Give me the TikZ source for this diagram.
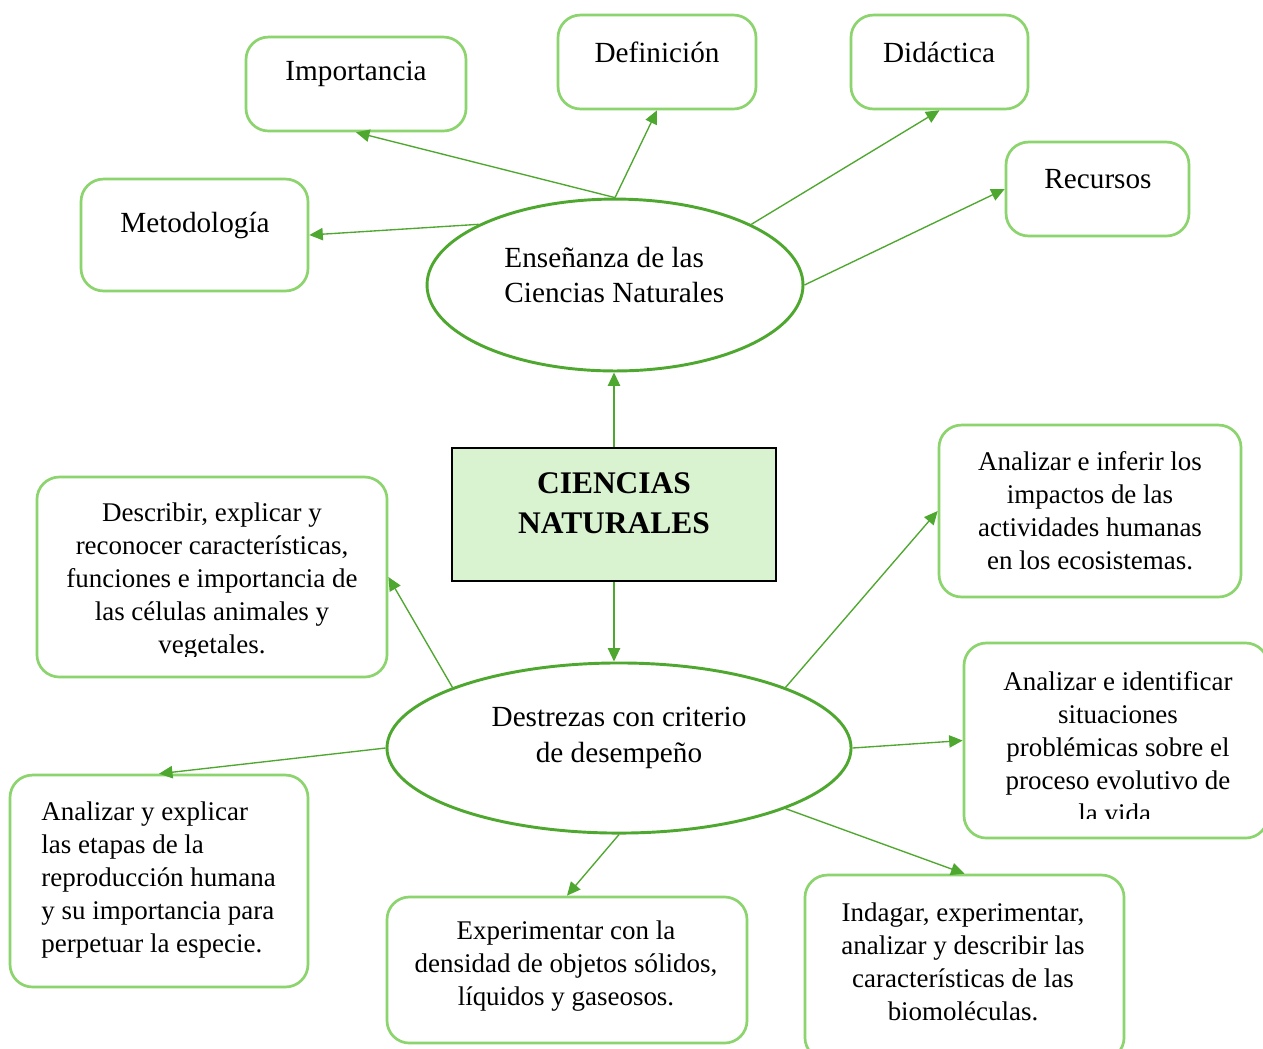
\documentclass[tikz,border=0pt]{standalone}
\usepackage{fontspec}
\setmainfont{Liberation Serif}
\usetikzlibrary{arrows.meta,shapes.geometric}
\definecolor{boxgreen}{RGB}{140,212,110}
\definecolor{linegreen}{RGB}{78,167,46}
\definecolor{centerfill}{RGB}{217,242,208}
\begin{document}
\begin{tikzpicture}[x=0.445pt,y=-0.445pt,
  box/.style={draw=boxgreen, line width=1.2pt, rounded corners=10pt, inner sep=0pt, fill=white},
  oval/.style={ellipse, draw=linegreen, line width=1.3pt, inner sep=0pt},
  conn/.style={draw=linegreen, line width=0.6pt, -{Triangle[length=6pt,width=5.5pt]}},
  txt/.style={font=\fontsize{12}{14.7}\selectfont, align=center, inner sep=0pt},
  big/.style={font=\fontsize{13}{15.6}\selectfont, align=center, inner sep=0pt}]
\clip (0,0) rectangle (1263,1048);
\fill[white] (0,0) rectangle (1263,1048);
% top boxes
\node[box, minimum width=97.9pt, minimum height=41.8pt] (bimp) at (356,84) {};
\node[big] (timp) at (356,74) {Importancia};
\node[box, minimum width=88.1pt, minimum height=41.8pt] (bdef) at (657,62) {};
\node[big] (tdef) at (657,52) {Definición};
\node[box, minimum width=78.8pt, minimum height=41.8pt] (bdid) at (939.5,62) {};
\node[big] (tdid) at (939,52) {Didáctica};
\node[box, minimum width=81.4pt, minimum height=41.8pt] (brec) at (1097.5,189) {};
\node[big] (trec) at (1098,179) {Recursos};
\node[box, minimum width=101pt, minimum height=49.8pt] (bmet) at (194.5,235) {};
\node[big] (tmet) at (195,225) {Metodología};
% ellipse 1
\node[oval, minimum width=167.3pt, minimum height=76.5pt] (e1) at (615,285) {};
\node[big, align=left, anchor=west] (te1) at (504,275) {Enseñanza de las\\Ciencias Naturales};
% central
\node[draw=black, line width=1.2pt, fill=centerfill, minimum width=144.2pt, minimum height=59.2pt, inner sep=0pt] (c) at (614,514.5) {};
\node[font=\fontsize{14}{17.8}\selectfont\bfseries, align=center, inner sep=0pt] (tc) at (614,503) {CIENCIAS\\NATURALES};
% ellipse 2
\node[oval, minimum width=206.5pt, minimum height=75.7pt] (e2) at (619,748) {};
\node[font=\fontsize{13}{16}\selectfont, align=center, inner sep=0pt] (te2) at (619,738) {Destrezas con criterio\\de desempeño};
% lower boxes
\node[box, minimum width=155.8pt, minimum height=89pt] (bdes) at (212,577) {};
\begin{scope}
\clip (37,477) rectangle (387,656);
\node[txt] (tdes) at (212,581) {Describir, explicar y\\reconocer características,\\funciones e importancia de\\las células animales y\\vegetales.};
\end{scope}
\node[box, minimum width=134.4pt, minimum height=76.5pt] (binf) at (1090,511) {};
\node[txt] (tinf) at (1090,510.5) {Analizar e inferir los\\impactos de las\\actividades humanas\\en los ecosistemas.};
\node[box, minimum width=135.3pt, minimum height=86.8pt] (bide) at (1116,740.5) {};
\begin{scope}
\clip (964,643) rectangle (1263,818);
\node[txt] (tide) at (1118,747) {Analizar e identificar\\situaciones\\problémicas sobre el\\proceso evolutivo de\\la vida.};
\end{scope}
\node[box, minimum width=132.6pt, minimum height=94.3pt] (bexp) at (159,881) {};
\node[txt, align=left, anchor=west] (texp) at (41,880) {Analizar y explicar\\las etapas de la\\reproducción humana\\y su importancia para\\perpetuar la especie.};
\node[box, minimum width=160.2pt, minimum height=65pt] (bexm) at (567,970) {};
\node[txt] (texm) at (566,966) {Experimentar con la\\densidad de objetos sólidos,\\líquidos y gaseosos.};
\node[box, minimum width=142pt, minimum height=82.3pt] (bind) at (964.5,967.5) {};
\node[txt] (tind) at (963,961.5) {Indagar, experimentar,\\analizar y describir las\\características de las\\biomoléculas.};
% connectors
\draw[conn] (c.north) -- (c.north |- e1.south);
\draw[conn] (c.south) -- (c.south |- e2.north);
\draw[conn] (e1.north) -- (bimp.south);
\draw[conn] (e1.north) -- (bdef.south);
\draw[conn] (e1.24) -- (bdid.south);
\draw[conn] (e1.east) -- (brec.west);
\draw[conn] (e1.156) -- (bmet.east);
\draw[conn] (e2.160) -- (bdes.east);
\draw[conn] (e2.west) -- (bexp.north);
\draw[conn] (e2.20) -- (binf.west);
\draw[conn] (e2.east) -- (bide.west);
\draw[conn] (e2.south) -- (bexm.north);
\draw[conn] (e2.-20) -- (bind.north);
\end{tikzpicture}
\end{document}
